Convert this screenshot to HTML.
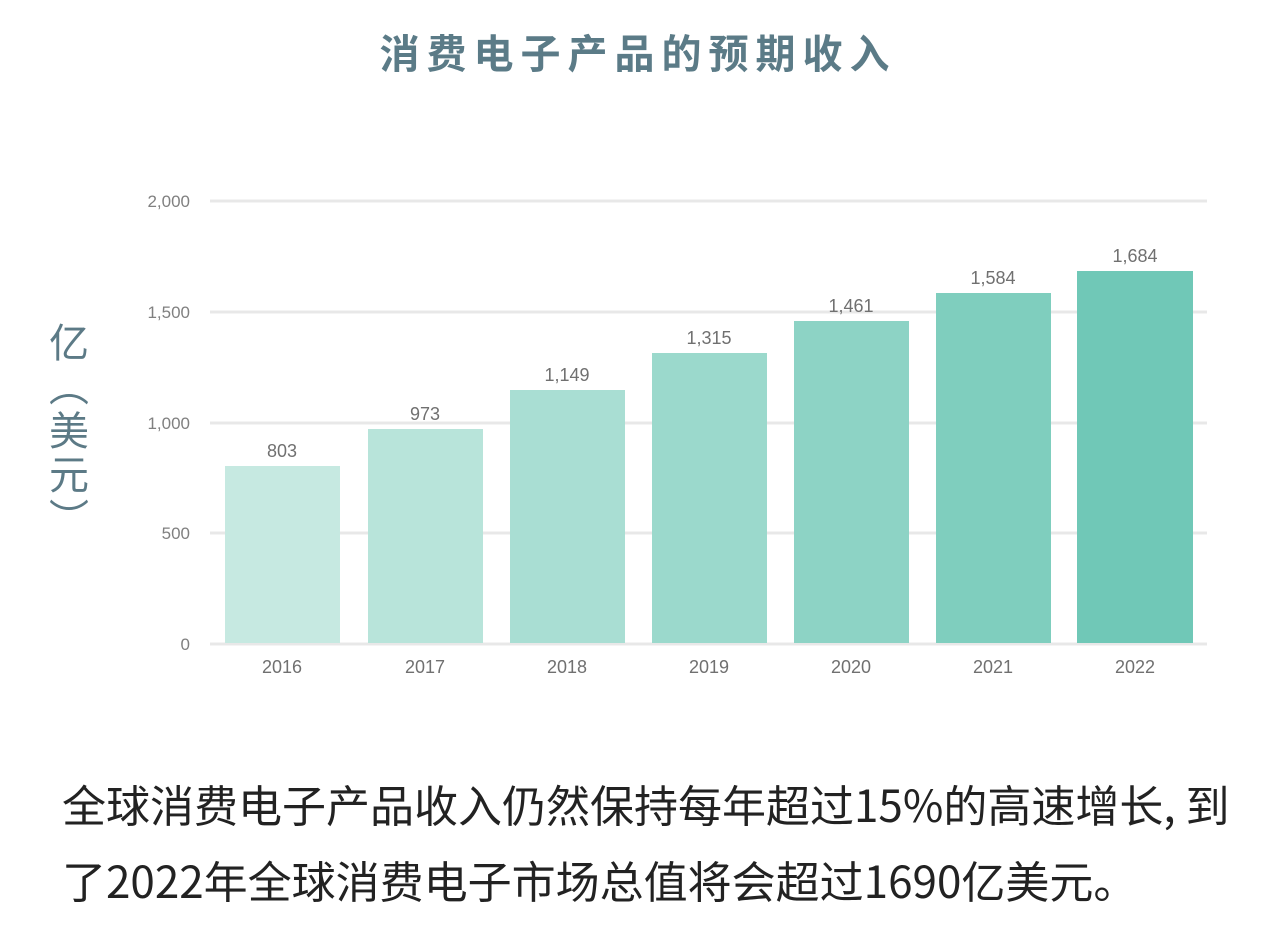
<!DOCTYPE html>
<html><head><meta charset="utf-8"><style>
body{margin:0;width:1269px;height:946px;background:#fff;overflow:hidden;position:relative;font-family:"Liberation Sans","Noto Sans CJK SC",sans-serif}
.t{position:absolute;left:0;width:1269px;top:22px;text-align:center;font-size:40px;font-weight:bold;color:#5b7b87;letter-spacing:7px;text-indent:7px;font-family:"Noto Sans CJK SC",sans-serif}
.yl{position:absolute;left:46px;top:322px;writing-mode:vertical-rl;font-size:40px;color:#5c7a86;font-family:"Noto Sans CJK SC",sans-serif;line-height:46px;letter-spacing:4px}
.b{position:absolute;left:62px;top:765px;font-size:44px;line-height:76px;color:#222;font-family:"Noto Sans CJK SC",sans-serif;white-space:nowrap}
</style></head><body>
<div class="t">消费电子产品的预期收入</div>
<div class="yl">亿（美元）</div>
<svg width="1269" height="946" style="position:absolute;left:0;top:0">
<g stroke="#e8e8e8" stroke-width="3">
<line x1="210" y1="201" x2="1207" y2="201"/><line x1="210" y1="312" x2="1207" y2="312"/>
<line x1="210" y1="423" x2="1207" y2="423"/><line x1="210" y1="533" x2="1207" y2="533"/>
<line x1="210" y1="644" x2="1207" y2="644"/></g>
<g font-size="17" fill="#808080" text-anchor="end" font-family="Liberation Sans">
<text x="190" y="207">2,000</text><text x="190" y="318">1,500</text><text x="190" y="429">1,000</text><text x="190" y="539">500</text><text x="190" y="650">0</text></g>
<g>
<rect x="225" y="466" width="115" height="177" fill="#c6e9e1"/>
<rect x="368" y="429" width="115" height="214" fill="#b8e4da"/>
<rect x="510" y="390" width="115" height="253" fill="#a9ded3"/>
<rect x="652" y="353" width="115" height="290" fill="#9bd9cc"/>
<rect x="794" y="321" width="115" height="322" fill="#8dd3c5"/>
<rect x="936" y="293" width="115" height="350" fill="#7fcebe"/>
<rect x="1077" y="271" width="116" height="372" fill="#70c8b7"/></g>
<g font-size="18" fill="#707070" text-anchor="middle" font-family="Liberation Sans">
<text x="282" y="457">803</text><text x="425" y="420">973</text><text x="567" y="381">1,149</text>
<text x="709" y="344">1,315</text><text x="851" y="312">1,461</text><text x="993" y="284">1,584</text><text x="1135" y="262">1,684</text>
<text x="282" y="673">2016</text><text x="425" y="673">2017</text><text x="567" y="673">2018</text>
<text x="709" y="673">2019</text><text x="851" y="673">2020</text><text x="993" y="673">2021</text><text x="1135" y="673">2022</text></g>
</svg>
<div class="b">全球消费电子产品收入仍然保持每年超过15%的高速增长, 到<br>了2022年全球消费电子市场总值将会超过1690亿美元。</div>
</body></html>
